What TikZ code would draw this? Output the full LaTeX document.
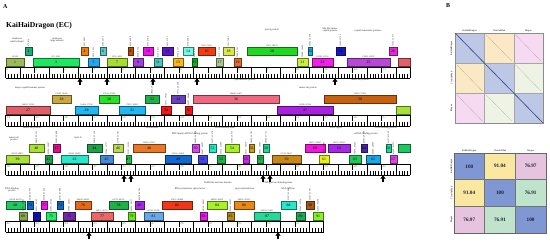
\documentclass[tikz,border=0pt]{standalone}
\usepackage{fontspec}
\setmainfont{Liberation Serif}
\usetikzlibrary{arrows.meta,calc,positioning}
\definecolor{cKb}{HTML}{5FA82A}
\definecolor{cDiag}{HTML}{BCC8E6}
\definecolor{cCm}{HTML}{FBE8C4}
\definecolor{cMg}{HTML}{F6DAF2}
\definecolor{cCmMg}{HTML}{EEF3E6}
\definecolor{hDiag}{HTML}{7F97D2}
\definecolor{hCm}{HTML}{FBE8A0}
\definecolor{hMg}{HTML}{E6C3DE}
\definecolor{hCmMg}{HTML}{BFE3CB}
\definecolor{cLine}{HTML}{3A4A8A}
\definecolor{cVal}{HTML}{1C1C3C}
\tikzset{
  gene/.style={draw=#1!50!black, fill=#1, line width=0.4pt, inner sep=0pt,
               minimum height=7.5pt, font=\fontsize{3.8}{3.8}\selectfont},
  bpl/.style={font=\fontsize{2.2}{2.4}\selectfont, inner sep=0.3pt, text=black!80},
  role/.style={font=\fontsize{2.5}{2.8}\selectfont, inner sep=0pt, align=center, text=black!85},
  kb/.style={font=\fontsize{3.5}{3.5}\selectfont, text=cKb, inner sep=0pt, anchor=north west},
  hit/.style={line width=1.7pt, -{Triangle[width=5.2pt,length=3.3pt]}},
  tk/.style={line width=0.4pt},
  panel/.style={font=\bfseries\fontsize{6}{6}\selectfont, inner sep=0pt},
  hdr/.style={font=\fontsize{2.4}{2.4}\selectfont, inner sep=0pt},
  cell/.style={draw=black!55, line width=0.5pt, minimum width=30.67pt, minimum height=26.67pt,
               inner sep=0pt, font=\bfseries\fontsize{5.2}{5.2}\selectfont, text=cVal},
}
% one gene: x from, x to, tier (0 low, 1 high), colour, number, bp offset of the row
\newcommand{\gene}[6]{%
  \pgfmathsetmacro\gw{#2-#1}%
  \pgfmathsetmacro\gy{#3==1 ? -15.75 : -5}%
  \edef\bpa{\fpeval{trunc((#1-5.5)*34.578,0)+#6+1}}%
  \edef\bpb{\fpeval{trunc((#2-5.5)*34.578,0)+#6}}%
  \definecolor{gc}{HTML}{#4}%
  \node[gene=gc, minimum width=\gw pt] (g#5) at ({(#1+#2)/2},\gy) {#5};
  \pgfmathparse{\gw>=16 ? 1 : 0}%
  \ifnum\pgfmathresult=1
    \node[bpl, above=0.2pt of g#5] {\bpa..\bpb};
  \else
    \node[bpl, rotate=90, anchor=west] at (g#5.north) {\bpa..\bpb};
  \fi
}
% the kb ruler under every row: number of kb, first label
\newcommand{\ruler}[2]{%
  \pgfmathsetmacro\xe{5.5+#1*28.92}%
  \draw[line width=0.5pt] (5.5,0) -- (\xe,0);
  \draw[line width=0.9pt] (5.5,11) -- (\xe,11);
  \draw[tk] (5.5,0) -- (5.5,11) (\xe,0) -- (\xe,11);
  \pgfmathtruncatemacro\kl{#1-1}%
  \foreach \k in {0,...,\kl} {
    \draw[tk] ({5.5+\k*28.92},0) -- ++(0,6);
    \draw[tk] ({5.5+(\k+0.5)*28.92},0) -- ++(0,7);
    \pgfmathtruncatemacro\lab{#2+\k}
    \node[kb] at ({6.3+\k*28.92},1) {\lab};
  }
  \pgfmathtruncatemacro\ml{#1*10-1}%
  \foreach \m in {1,...,\ml} {
    \draw[tk] ({5.5+\m*2.892},11) -- ++(0,-4.2);
  }
}

\begin{document}
\begin{tikzpicture}[x=1pt, y=-1pt]
\fill[white] (0,0) rectangle (550,243);
\useasboundingbox (0,0) rectangle (550,243);

% ------------------------------------------------------------------ panel A
\node[panel, anchor=north west] (A) at (3,4) {A};
\node[anchor=west, inner sep=0pt, font=\bfseries\fontsize{7.6}{7.6}\selectfont] (title) at (6,25.5) {KaiHaiDragon (EC)};

% row 1: 0-14 kb
\begin{scope}[shift={(0,67)}]
  \ruler{14}{0}
  \foreach \xa/\xb/\t/\c/\n in {6/24/0/9BBB59/1, 25/32/1/1FAA78/2, 33/79/0/1EE860/3,
      81/88/1/F07D10/4, 88/99/0/1EA8F0/5, 100/106/1/58C8C0/6, 107/127/0/A8DC30/7,
      128/133/1/B85010/8, 133/143/0/A040E0/9, 143/153/1/F010F0/10, 154/162/0/48C8B8/11,
      162/173/1/5A18C8/12, 173/183/0/F8B820/13, 183/193/1/70F8E8/14, 192/197/0/10B020/15,
      198/215/1/F03C10/16, 216/223/0/A8C890/17, 223/234/1/D8E850/18, 234/241/0/E07030/19,
      247/297/1/20D820/20, 297/308/0/C8F040/21, 308/312/1/20A8E0/22, 312/333/0/F020E8/23,
      336/345/1/1818C0/24, 347/390/0/B848D8/25, 389/397/1/E828D8/26}
    {\gene{\xa}{\xb}{\t}{\c}{\n}{0}}
  \definecolor{gc}{HTML}{E06068}
  \node[gene=gc, minimum width=12pt] (g27a) at (404,-5) {};
  \foreach \x in {80,107,153,197,335}
    \draw[hit] (\x,18.5) -- (\x,11.4);
\end{scope}
\node[role] (r1) at (17,40) {terminase\\small subunit};
\node[role] (r2) at (57,40) {terminase\\large subunit};
\node[role] (r3) at (272,30) {portal protein};
\node[role] (r4) at (330,30) {Mu-like minor\\capsid protein};
\node[role] (r5) at (368,31) {capsid maturation protease};

% row 2: 14-28 kb
\begin{scope}[shift={(0,115)}]
  \ruler{14}{14}
  \foreach \xa/\xb/\t/\c/\n in {6/50/0/E06068/27, 52/71/1/C8A840/28, 75/98/0/20B8F0/29,
      99/119/1/28E028/30, 119/145/0/20B8F0/31, 145/159/1/20B048/32, 161/171/0/F01818/33,
      171/185/1/6840C0/34, 185/192/0/F01818/35, 193/279/1/F06880/36, 277/333/0/A820E0/37,
      324/396/1/C86010/38}
    {\gene{\xa}{\xb}{\t}{\c}{\n}{14000}}
  \definecolor{gc}{HTML}{A8E038}
  \node[gene=gc, minimum width=14pt] (g39a) at (403,-5) {};
\end{scope}
\node[role] (r6) at (30,88) {major capsid hexamer protein};
\node[role] (r7) at (245,80) {tape measure protein};
\node[role] (r8) at (308,88) {minor tail protein};
\node[role] (r9) at (360,80) {minor tail protein};

% row 3: 28-42 kb
\begin{scope}[shift={(0,164)}]
  \ruler{14}{28}
  \foreach \xa/\xb/\t/\c/\n in {6/29/0/A8E038/39, 29/44/1/A8E038/40, 45/52/0/20A048/41,
      53/60/1/E01088/42, 61/88/0/28E8C8/43, 87/102/1/20A048/44, 100/113/0/4888D8/45,
      113/123/1/B8D858/46, 126/131/0/20C048/47, 133/165/1/E87828/48, 165/191/0/1068D0/49,
      192/199/1/D848F0/50, 198/207/0/4048E8/51, 209/216/1/28E8C8/52, 217/225/0/20B048/53,
      225/239/1/A8F028/54, 243/249/0/C828E8/55, 249/254/1/D09818/56, 257/263/0/20B048/57,
      263/269/1/20D898/58, 272/301/0/C88818/59, 305/325/1/F018D8/60, 319/329/0/E8F018/61,
      328/350/1/A828E8/62, 349/361/0/20C858/63, 361/367/1/4828A8/64, 366/380/0/18A8E8/65,
      386/391/1/20D898/66, 390/397/0/D848E8/67}
    {\gene{\xa}{\xb}{\t}{\c}{\n}{28000}}
  \definecolor{gc}{HTML}{20C860}
  \node[gene=gc, minimum width=12pt] (g68a) at (404,-15.75) {};
  \foreach \x in {124,131,263,270,383}
    \draw[hit] (\x,18.5) -- (\x,11.4);
\end{scope}
\node[role] (r10) at (32,128) {minor tail protein};
\node[role] (r11) at (14,139) {minor tail\\protein};
\node[role] (r12) at (78,138) {lysin A};
\node[role] (r13) at (152,128) {exonuclease};
\node[role] (r14) at (190,134) {ERF family ssDNA binding protein};
\node[role] (r15) at (225,128) {HNH endonuclease};
\node[role] (r16) at (336,128) {DNA ligase};
\node[role] (r17) at (366,134) {ssDNA binding protein};
\node[role] (r18) at (386,128) {DNA binding protein};

% row 4: 42-53 kb
\begin{scope}[shift={(0,221)}]
  \ruler{11}{42}
  \foreach \xa/\xb/\t/\c/\n in {6/25/1/20C860/68, 19/27/0/88A848/69, 27/33/1/1068C8/70,
      33/40/0/1010B8/71, 41/47/1/F018E8/72, 46/56/0/28E868/73, 57/63/1/1068C8/74,
      63/75/0/7028A8/75, 75/91/1/E86818/76, 91/113/0/E86868/77, 109/128/1/20B048/78,
      128/135/0/68E818/79, 135/144/1/A828E8/80, 144/163/0/68A8E8/81, 162/192/1/F03818/82,
      200/207/0/E818E8/83, 207/227/1/A8F028/84, 227/234/0/B88818/85, 234/254/1/E88818/86,
      254/280/0/28D898/87, 281/296/1/28E8C8/88, 296/305/0/20A858/89, 306/314/1/A85818/90,
      313/323/0/88F028/91}
    {\gene{\xa}{\xb}{\t}{\c}{\n}{42000}}
  \foreach \x in {89,278}
    \draw[hit] (\x,18.5) -- (\x,11.4);
\end{scope}
\node[role] (r19) at (12,190) {DNA binding\\protein};
\node[role] (r20) at (218,183) {PadR-like nuclease domain};
\node[role] (r21) at (278,183) {CDP-glucose dehydrogenase};
\node[role] (r22) at (190,189) {RNA polymerase sigma factor};
\node[role] (r23) at (245,189) {glycosyltransferase};
\node[role] (r24) at (288,189) {AAA ATPase};

% ------------------------------------------------------------------ panel B
\node[panel, anchor=north west] (B) at (446,3) {B};

% dot plot, 3 x 3
\begin{scope}[shift={(455,33)}]
  \foreach \i/\j/\col in {0/0/cDiag, 0/1/cCm, 0/2/cMg, 1/0/cCm, 1/1/cDiag, 1/2/cCmMg,
                          2/0/cMg, 2/1/cCmMg, 2/2/cDiag} {
    \fill[\col] ({\j*29.33},{\i*30}) rectangle ++(29.33,30);
    \draw[\col!55!black, line width=0.25pt, opacity=0.6]
      ({\j*29.33+2},{\i*30+2}) -- ++(25.33,26);
  }
  \foreach \k in {1,2} {
    \draw[black!35, line width=0.3pt] ({\k*29.33},0) -- ++(0,90);
    \draw[black!35, line width=0.3pt] (0,{\k*30}) -- ++(88,0);
  }
  \draw[black!45, line width=0.3pt] (0,0) rectangle (88,90);
  \draw[cLine, line width=0.6pt] (0,0) -- (88,90);
\end{scope}
\foreach \n/\nm in {0/KaiHaiDragon, 1/ClearAsMud, 2/Megan} {
  \node[hdr] (dc\n) at ({469.7+\n*29.33},30.5) {\nm};
  \node[hdr, rotate=90] (dr\n) at (451.5,{48+\n*30}) {\nm};
}

% identity table, 3 x 3
\foreach \i/\j/\col/\v in {0/0/hDiag/100, 0/1/hCm/91.04, 0/2/hMg/76.97,
                           1/0/hCm/91.04, 1/1/hDiag/100, 1/2/hCmMg/76.91,
                           2/0/hMg/76.97, 2/1/hCmMg/76.91, 2/2/hDiag/100}
  \node[cell, fill=\col] (t\i\j) at ({469.3+\j*30.67},{166.3+\i*26.67}) {\v};
\draw[black!60, line width=0.6pt] (454,153) rectangle (546,233);
\foreach \n/\nm in {0/KaiHaiDragon, 1/ClearAsMud, 2/Megan} {
  \node[hdr] (tc\n) at ({469.3+\n*30.67},150.5) {\nm};
  \node[hdr, rotate=90] (tr\n) at (451.5,{166.3+\n*26.67}) {\nm};
}
\end{tikzpicture}
\end{document}
